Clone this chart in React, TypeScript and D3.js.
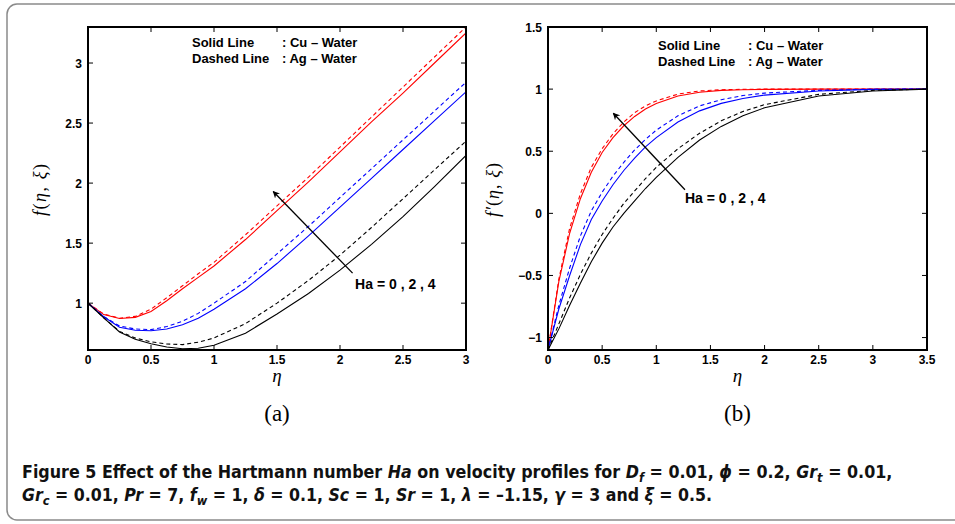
import React, { useEffect, useRef } from 'react';
import * as d3 from 'd3';

// ---- panel (a): f(eta, xi) ----
const etaA = [0, 0.125, 0.25, 0.375, 0.5, 0.625, 0.75, 0.875, 1, 1.25, 1.5, 1.75, 2, 2.25, 2.5, 2.75, 3];
const fCuHa0 = [1, 0.905, 0.872, 0.882, 0.93, 1.02, 1.12, 1.215, 1.31, 1.53, 1.77, 2.01, 2.26, 2.51, 2.75, 3.0, 3.25];
const fAgHa0 = [1, 0.91, 0.874, 0.89, 0.95, 1.045, 1.145, 1.245, 1.34, 1.57, 1.81, 2.05, 2.3, 2.55, 2.8, 3.05, 3.3];
const fCuHa2 = [1, 0.887, 0.8, 0.775, 0.77, 0.785, 0.82, 0.875, 0.95, 1.12, 1.33, 1.56, 1.8, 2.04, 2.28, 2.52, 2.76];
const fAgHa2 = [1, 0.889, 0.81, 0.785, 0.78, 0.805, 0.85, 0.915, 1.0, 1.18, 1.41, 1.64, 1.88, 2.12, 2.36, 2.6, 2.84];
const fCuHa4 = [1, 0.877, 0.76, 0.7, 0.662, 0.635, 0.62, 0.625, 0.65, 0.75, 0.91, 1.08, 1.275, 1.49, 1.72, 1.97, 2.23];
const fAgHa4 = [1, 0.878, 0.765, 0.71, 0.678, 0.66, 0.655, 0.675, 0.71, 0.83, 1.0, 1.19, 1.4, 1.63, 1.87, 2.11, 2.35];
const xTicksA = [0, 0.5, 1, 1.5, 2, 2.5, 3];
const yTicksA = [1, 1.5, 2, 2.5, 3];

// ---- panel (b): f'(eta, xi) ----
const etaB = [0, 0.1, 0.2, 0.3, 0.4, 0.5, 0.6, 0.7, 0.8, 0.9, 1.0, 1.2, 1.4, 1.6, 1.8, 2.0, 2.5, 3.0, 3.5];
const dfCuHa0 = [-1.1, -0.55, -0.16, 0.12, 0.33, 0.49, 0.61, 0.705, 0.78, 0.84, 0.885, 0.945, 0.975, 0.99, 0.995, 0.998, 1, 1, 1];
const dfAgHa0 = [-1.1, -0.53, -0.12, 0.16, 0.37, 0.52, 0.64, 0.735, 0.81, 0.865, 0.905, 0.96, 0.985, 0.995, 0.998, 1, 1, 1, 1];
const dfCuHa2 = [-1.1, -0.77, -0.5, -0.25, -0.05, 0.1, 0.23, 0.345, 0.445, 0.535, 0.61, 0.735, 0.825, 0.885, 0.925, 0.952, 0.985, 0.998, 1];
const dfAgHa2 = [-1.1, -0.74, -0.44, -0.18, 0.02, 0.17, 0.3, 0.41, 0.51, 0.595, 0.67, 0.785, 0.865, 0.915, 0.948, 0.968, 0.99, 0.999, 1];
const dfCuHa4 = [-1.1, -0.93, -0.74, -0.56, -0.39, -0.24, -0.11, 0.0, 0.1, 0.2, 0.29, 0.45, 0.59, 0.7, 0.785, 0.85, 0.945, 0.985, 1];
const dfAgHa4 = [-1.1, -0.89, -0.68, -0.49, -0.32, -0.17, -0.04, 0.08, 0.18, 0.28, 0.37, 0.52, 0.645, 0.745, 0.82, 0.875, 0.958, 0.99, 1];
const xTicksB = [0, 0.5, 1, 1.5, 2, 2.5, 3, 3.5];
const yTicksB = [-1, -0.5, 0, 0.5, 1, 1.5];

const haLabel = 'Ha = 0 , 2 , 4';

type Series = { color: string; dashed: boolean; values: number[] };
type Panel = {
  id: string;
  eta: number[];
  series: Series[];
  xDomain: [number, number];
  yDomain: [number, number];
  xRange: [number, number];
  yRange: [number, number];
  xTicks: number[];
  yTicks: number[];
  arrowFrom: [number, number];
  arrowTo: [number, number];
  labelAt: [number, number];
  legendX: number;
  colonX: number;
  legendY: number;
  yLabelOffset: number;
};

const panels: Panel[] = [
  {
    id: 'a',
    eta: etaA,
    series: [
      { color: '#ff0000', dashed: false, values: fCuHa0 },
      { color: '#ff0000', dashed: true, values: fAgHa0 },
      { color: '#0000ff', dashed: false, values: fCuHa2 },
      { color: '#0000ff', dashed: true, values: fAgHa2 },
      { color: '#000000', dashed: false, values: fCuHa4 },
      { color: '#000000', dashed: true, values: fAgHa4 },
    ],
    xDomain: [0, 3],
    yDomain: [0.61, 3.3],
    xRange: [88, 466],
    yRange: [350, 27],
    xTicks: xTicksA,
    yTicks: yTicksA,
    arrowFrom: [2.1, 1.25],
    arrowTo: [1.47, 1.93],
    labelAt: [2.12, 1.117],
    legendX: 104,
    colonX: 194,
    legendY: 47,
    yLabelOffset: 42,
  },
  {
    id: 'b',
    eta: etaB,
    series: [
      { color: '#ff0000', dashed: false, values: dfCuHa0 },
      { color: '#ff0000', dashed: true, values: dfAgHa0 },
      { color: '#0000ff', dashed: false, values: dfCuHa2 },
      { color: '#0000ff', dashed: true, values: dfAgHa2 },
      { color: '#000000', dashed: false, values: dfCuHa4 },
      { color: '#000000', dashed: true, values: dfAgHa4 },
    ],
    xDomain: [0, 3.5],
    yDomain: [-1.1, 1.5],
    xRange: [548, 927],
    yRange: [350, 27],
    xTicks: xTicksB,
    yTicks: yTicksB,
    arrowFrom: [1.265, 0.19],
    arrowTo: [0.603, 0.806],
    labelAt: [1.265, 0.08],
    legendX: 110,
    colonX: 200,
    legendY: 50,
    yLabelOffset: 49,
  },
];

const tickFont = "'Liberation Sans', Arial, Helvetica, sans-serif";
const fmt = (v: number) => (v < 0 ? '\u2212' + String(-v) : String(v));

function drawPanel(root: d3.Selection<SVGGElement, unknown, null, undefined>, p: Panel) {
  const x = d3.scaleLinear().domain(p.xDomain).range(p.xRange);
  const y = d3.scaleLinear().domain(p.yDomain).range(p.yRange);
  const [x0, x1] = p.xRange;
  const [y0, y1] = p.yRange;
  const g = root.append('g');

  const defs = g.append('defs');
  defs.append('clipPath').attr('id', 'clip-' + p.id)
    .append('rect').attr('x', x0).attr('y', y1).attr('width', x1 - x0).attr('height', y0 - y1);
  defs.append('marker')
    .attr('id', 'arrow-' + p.id)
    .attr('viewBox', '0 0 10 10')
    .attr('refX', 9).attr('refY', 5)
    .attr('markerWidth', 7).attr('markerHeight', 7)
    .attr('markerUnits', 'userSpaceOnUse')
    .attr('orient', 'auto')
    .append('path').attr('d', 'M0,0 L10,5 L0,10 L3,5 Z').attr('fill', '#000');

  const line = d3.line<number>()
    .x((_, i) => x(p.eta[i]))
    .y((d) => y(d));

  const lines = g.append('g').attr('clip-path', `url(#clip-${p.id})`);
  p.series.forEach((s) => {
    lines.append('path')
      .datum(s.values)
      .attr('fill', 'none')
      .attr('stroke', s.color)
      .attr('stroke-width', 1.1)
      .attr('stroke-dasharray', s.dashed ? '4,3' : null)
      .attr('d', line);
  });

  // frame
  g.append('rect')
    .attr('x', x0).attr('y', y1).attr('width', x1 - x0).attr('height', y0 - y1)
    .attr('fill', 'none').attr('stroke', '#000').attr('stroke-width', 2);

  // inward ticks on all sides
  const tl = 5;
  p.xTicks.forEach((t) => {
    const px = x(t);
    g.append('line').attr('x1', px).attr('x2', px).attr('y1', y0).attr('y2', y0 - tl).attr('stroke', '#000').attr('stroke-width', 1);
    g.append('line').attr('x1', px).attr('x2', px).attr('y1', y1).attr('y2', y1 + tl).attr('stroke', '#000').attr('stroke-width', 1);
    g.append('text').attr('x', px).attr('y', y0 + 14)
      .attr('text-anchor', 'middle')
      .attr('font-family', tickFont).attr('font-weight', 'bold').attr('font-size', 12)
      .text(fmt(t));
  });
  p.yTicks.forEach((t) => {
    const py = y(t);
    g.append('line').attr('x1', x0).attr('x2', x0 + tl).attr('y1', py).attr('y2', py).attr('stroke', '#000').attr('stroke-width', 1);
    g.append('line').attr('x1', x1).attr('x2', x1 - tl).attr('y1', py).attr('y2', py).attr('stroke', '#000').attr('stroke-width', 1);
    g.append('text').attr('x', x0 - 6).attr('y', py + 4.5)
      .attr('text-anchor', 'end')
      .attr('font-family', tickFont).attr('font-weight', 'bold').attr('font-size', 12)
      .text(fmt(t));
  });

  // legend
  const leg = g.append('g').attr('font-family', tickFont).attr('font-weight', 'bold').attr('font-size', 13);
  leg.append('text').attr('x', x0 + p.legendX).attr('y', p.legendY).text('Solid Line');
  leg.append('text').attr('x', x0 + p.colonX).attr('y', p.legendY).text(': Cu \u2013 Water');
  leg.append('text').attr('x', x0 + p.legendX).attr('y', p.legendY + 16).text('Dashed Line');
  leg.append('text').attr('x', x0 + p.colonX).attr('y', p.legendY + 16).text(': Ag \u2013 Water');

  // Ha arrow
  g.append('line')
    .attr('x1', x(p.arrowFrom[0])).attr('y1', y(p.arrowFrom[1]))
    .attr('x2', x(p.arrowTo[0])).attr('y2', y(p.arrowTo[1]))
    .attr('stroke', '#000').attr('stroke-width', 1.3)
    .attr('marker-end', `url(#arrow-${p.id})`);
  g.append('text')
    .attr('x', x(p.labelAt[0])).attr('y', y(p.labelAt[1]))
    .attr('font-family', tickFont).attr('font-weight', 'bold').attr('font-size', 14)
    .text(haLabel);

  // axis labels
  const serif = "'Liberation Serif', 'Times New Roman', serif";
  const cx = (x0 + x1) / 2;
  g.append('text').attr('x', cx).attr('y', 382)
    .attr('text-anchor', 'middle').attr('font-family', serif).attr('font-style', 'italic').attr('font-size', 19)
    .text('\u03b7');
  g.append('text').attr('x', cx).attr('y', 421)
    .attr('text-anchor', 'middle').attr('font-family', serif).attr('font-size', 23)
    .text(`(${p.id})`);

  const ylab = g.append('text')
    .attr('transform', `translate(${x0 - p.yLabelOffset},${190}) rotate(-90)`)
    .attr('text-anchor', 'middle')
    .attr('font-family', serif).attr('font-size', 18)
    .attr('textLength', p.id === 'a' ? 52 : 54)
    .attr('lengthAdjust', 'spacing');
  ylab.append('tspan').attr('font-style', 'italic').text(p.id === 'a' ? 'f' : 'f\u2032');
  ylab.append('tspan').text('(');
  ylab.append('tspan').attr('font-style', 'italic').text('\u03b7');
  ylab.append('tspan').text(', ');
  ylab.append('tspan').attr('font-style', 'italic').text('\u03be');
  ylab.append('tspan').text(')');
}

const capFont = "'Liberation Sans Narrow', 'DejaVu Sans Condensed', 'Liberation Sans', sans-serif";
const capLines = [
  { y: 478, width: 871 },
  { y: 501, width: 691 },
];

const App = () => {
  const gRef = useRef<SVGGElement>(null);
  const cap1 = useRef<SVGTextElement>(null);
  const cap2 = useRef<SVGTextElement>(null);

  useEffect(() => {
    if (!gRef.current) return;
    const root = d3.select(gRef.current);
    root.selectAll('*').remove();
    panels.forEach((p) => drawPanel(root, p));

    // squeeze caption lines to the printed width
    [cap1.current, cap2.current].forEach((el, i) => {
      if (!el) return;
      const len = el.getComputedTextLength();
      const s = len > 0 ? capLines[i].width / len : 1;
      el.setAttribute('transform', `translate(22,${capLines[i].y}) scale(${s},1)`);
    });
  }, []);

  return (
    <div style={{ position: 'absolute', left: 0, top: 0 }}>
      <svg width={955} height={524} style={{ display: 'block', background: '#fff' }}>
        <rect x={7} y={4} width={1000} height={516} rx={10} ry={10} fill="#fff" stroke="#8a8a8a" strokeWidth={1.5} />
        <g ref={gRef} />
        <g fontFamily={capFont} fontWeight="bold" fontSize={18} fill="#111" style={{ whiteSpace: 'pre' }}>
          <text ref={cap1} x={0} y={0} transform={`translate(22,${capLines[0].y})`}>
            <tspan>{'Figure 5  Effect of the Hartmann number '}</tspan>
            <tspan fontStyle="italic">Ha</tspan>
            <tspan>{' on velocity profiles for '}</tspan>
            <tspan fontStyle="italic">D</tspan>
            <tspan fontStyle="italic" dy={4} fontSize={13}>f</tspan>
            <tspan dy={-4}>{' = 0.01, '}</tspan>
            <tspan fontStyle="italic">{'\u03d5'}</tspan>
            <tspan>{' = 0.2, '}</tspan>
            <tspan fontStyle="italic">Gr</tspan>
            <tspan fontStyle="italic" dy={4} fontSize={13}>t</tspan>
            <tspan dy={-4}>{' = 0.01,'}</tspan>
          </text>
          <text ref={cap2} x={0} y={0} transform={`translate(22,${capLines[1].y})`}>
            <tspan fontStyle="italic">Gr</tspan>
            <tspan fontStyle="italic" dy={4} fontSize={13}>c</tspan>
            <tspan dy={-4}>{' = 0.01, '}</tspan>
            <tspan fontStyle="italic">Pr</tspan>
            <tspan>{' = 7, '}</tspan>
            <tspan fontStyle="italic">f</tspan>
            <tspan fontStyle="italic" dy={4} fontSize={13}>w</tspan>
            <tspan dy={-4}>{' = 1, '}</tspan>
            <tspan fontStyle="italic">{'\u03b4'}</tspan>
            <tspan>{' = 0.1, '}</tspan>
            <tspan fontStyle="italic">Sc</tspan>
            <tspan>{' = 1, '}</tspan>
            <tspan fontStyle="italic">Sr</tspan>
            <tspan>{' = 1, '}</tspan>
            <tspan fontStyle="italic">{'\u03bb'}</tspan>
            <tspan>{' = \u20131.15, '}</tspan>
            <tspan fontStyle="italic">{'\u03b3'}</tspan>
            <tspan>{' = 3 and '}</tspan>
            <tspan fontStyle="italic">{'\u03be'}</tspan>
            <tspan>{' = 0.5.'}</tspan>
          </text>
        </g>
      </svg>
    </div>
  );
};

export default App;
